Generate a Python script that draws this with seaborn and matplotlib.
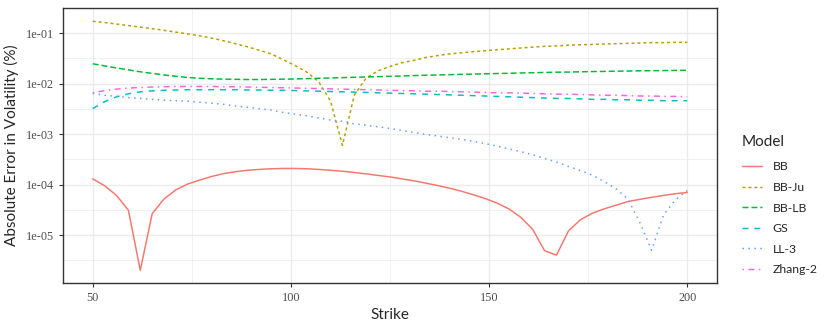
import numpy as np
import pandas as pd
import matplotlib
matplotlib.use("Agg")
import matplotlib.pyplot as plt
import seaborn as sns

# strikes 50, 53, ..., 200
strike = list(range(50, 201, 3))

bb = [1.30e-4, 9.5e-5, 6.1e-5, 3.1e-5, 2.0e-6, 2.65e-5, 5.2e-5, 7.9e-5, 1.03e-4, 1.23e-4,
      1.45e-4, 1.65e-4, 1.80e-4, 1.92e-4, 2.00e-4, 2.06e-4, 2.09e-4, 2.09e-4, 2.06e-4, 2.00e-4,
      1.92e-4, 1.84e-4, 1.74e-4, 1.63e-4, 1.52e-4, 1.42e-4, 1.30e-4, 1.19e-4, 1.07e-4, 9.6e-5,
      8.5e-5, 7.4e-5, 6.3e-5, 5.3e-5, 4.3e-5, 3.3e-5, 2.25e-5, 1.3e-5, 4.9e-6, 4.0e-6,
      1.2e-5, 2.0e-5, 2.7e-5, 3.3e-5, 3.9e-5, 4.6e-5, 5.1e-5, 5.6e-5, 6.1e-5, 6.6e-5, 7.0e-5]

bb_ju = [0.172, 0.163, 0.152, 0.142, 0.132, 0.123, 0.114, 0.105, 0.097, 0.089,
         0.080, 0.071, 0.062, 0.054, 0.046, 0.039, 0.030, 0.023, 0.017, 0.011,
         0.0045, 0.0006, 0.006, 0.013, 0.018, 0.022, 0.026, 0.029, 0.033, 0.036,
         0.039, 0.041, 0.043, 0.045, 0.047, 0.049, 0.051, 0.053, 0.055, 0.056,
         0.058, 0.059, 0.060, 0.061, 0.062, 0.063, 0.064, 0.065, 0.065, 0.066, 0.066]

bb_lb = [0.0248, 0.0225, 0.0205, 0.0188, 0.0172, 0.0160, 0.0149, 0.0140, 0.0133, 0.0128,
         0.0125, 0.0123, 0.0122, 0.0121, 0.0121, 0.0122, 0.0123, 0.0124, 0.0126, 0.0128,
         0.0130, 0.0132, 0.0134, 0.0136, 0.0138, 0.0140, 0.0142, 0.0145, 0.0147, 0.0149,
         0.0151, 0.0153, 0.0155, 0.0157, 0.0159, 0.0161, 0.0163, 0.0165, 0.0167, 0.0169,
         0.0170, 0.0172, 0.0174, 0.0175, 0.0177, 0.0178, 0.0180, 0.0181, 0.0182, 0.0183, 0.0184]

gs = [0.0032, 0.0044, 0.0055, 0.0063, 0.0069, 0.0072, 0.0074, 0.0075, 0.0076, 0.0076,
      0.0076, 0.0076, 0.0076, 0.0075, 0.0075, 0.0074, 0.0074, 0.0073, 0.0072, 0.0071,
      0.0070, 0.0069, 0.0068, 0.0067, 0.0066, 0.0065, 0.0064, 0.0063, 0.0062, 0.0061,
      0.0060, 0.0059, 0.0058, 0.0057, 0.0056, 0.0055, 0.0054, 0.0053, 0.0052, 0.0051,
      0.0051, 0.0050, 0.0049, 0.0049, 0.0048, 0.0048, 0.0047, 0.0047, 0.0046, 0.0046, 0.0046]

ll3 = [0.0064, 0.0059, 0.0056, 0.0053, 0.0051, 0.0049, 0.0047, 0.0046, 0.0045, 0.0043,
       0.0041, 0.0039, 0.0036, 0.0034, 0.0032, 0.0030, 0.0027, 0.0025, 0.0023, 0.0021,
       0.0019, 0.0018, 0.0016, 0.0015, 0.0014, 0.0013, 0.00118, 0.00108, 0.00099, 0.00092,
       0.00085, 0.00079, 0.00072, 0.00065, 0.00058, 0.00051, 0.00045, 0.00039, 0.00033, 0.00028,
       0.00023, 0.00019, 0.000155, 0.000115, 8.3e-5, 5.2e-5, 1.8e-5, 5.0e-6, 2.5e-5, 5.0e-5, 7.6e-5]

zhang2 = [0.0066, 0.0073, 0.0078, 0.0082, 0.0084, 0.0086, 0.0087, 0.0088, 0.0088, 0.0088,
          0.0088, 0.0087, 0.0087, 0.0086, 0.0085, 0.0084, 0.0083, 0.0082, 0.0081, 0.0080,
          0.0079, 0.0078, 0.0077, 0.0076, 0.0075, 0.0074, 0.0073, 0.0072, 0.0071, 0.0071,
          0.0070, 0.0069, 0.0068, 0.0067, 0.0066, 0.0066, 0.0065, 0.0064, 0.0063, 0.0062,
          0.0062, 0.0061, 0.0060, 0.0059, 0.0059, 0.0058, 0.0057, 0.0057, 0.0056, 0.0056, 0.0055]

models = ["BB", "BB-Ju", "BB-LB", "GS", "LL-3", "Zhang-2"]
series = [bb, bb_ju, bb_lb, gs, ll3, zhang2]
colors = ["#F8766D", "#B79F00", "#00BA38", "#00BFC4", "#619CFF", "#F564E3"]
dash_styles = ["", (2, 2), (4, 2), (4, 4), (1, 3), (1, 3, 4, 3)]

df = pd.concat([pd.DataFrame({"Strike": strike, "Error": v, "Model": m})
                for m, v in zip(models, series)], ignore_index=True)

sns.set_style("white")
plt.rcParams["font.family"] = ["Lato", "DejaVu Sans"]

fig = plt.figure(figsize=(8.3, 3.32), dpi=100)
ax = fig.add_axes([63 / 830, 1 - 283 / 332, (717 - 63) / 830, (283 - 8) / 332])

sns.lineplot(data=df, x="Strike", y="Error", hue="Model", style="Model",
             palette=dict(zip(models, colors)), dashes=dict(zip(models, dash_styles)),
             linewidth=1.07, ax=ax)

ax.set_yscale("log")
ax.set_xlim(42.5, 207.5)
ax.set_ylim(10 ** -5.95, 10 ** -0.52)

ax.set_xticks([50, 100, 150, 200])
ax.set_xticks([75, 125, 175], minor=True)
yt = [1e-5, 1e-4, 1e-3, 1e-2, 1e-1]
ax.set_yticks(yt)
ax.set_yticklabels(["1e-05", "1e-04", "1e-03", "1e-02", "1e-01"])
ax.set_yticks([10 ** (-k - 0.5) for k in range(0, 6)], minor=True)
ax.yaxis.set_minor_formatter(matplotlib.ticker.NullFormatter())

ax.grid(True, which="major", color="#EBEBEB", linewidth=1.0)
ax.grid(True, which="minor", color="#EBEBEB", linewidth=0.5)
ax.set_axisbelow(True)
ax.tick_params(which="major", direction="out", length=3, width=0.8, color="#333333",
               labelsize=8.8, labelcolor="#4D4D4D", left=True, bottom=True)
ax.tick_params(which="minor", length=0)
for lab in ax.get_xticklabels() + ax.get_yticklabels():
    lab.set_family(["Liberation Serif", "DejaVu Serif"])
for s in ax.spines.values():
    s.set_color("#333333")
    s.set_linewidth(1.0)

ax.set_xlabel("Strike", fontsize=11, labelpad=3)
ax.set_ylabel("Absolute Error in Volatility (%)", fontsize=11, labelpad=5)

handles, labels = ax.get_legend_handles_labels()
ax.get_legend().remove()
leg = fig.legend(handles, labels, title="Model", loc="upper left",
                 bbox_to_anchor=(731 / 830, 1 - 124 / 332), frameon=False,
                 fontsize=8.8, title_fontsize=11, handlelength=1.6,
                 labelspacing=0.78, alignment="left", handletextpad=0.9)
# a bit more room between the title and the first key, like ggplot
leg._legend_box.sep = 9

fig.savefig("out.png", dpi=100)
